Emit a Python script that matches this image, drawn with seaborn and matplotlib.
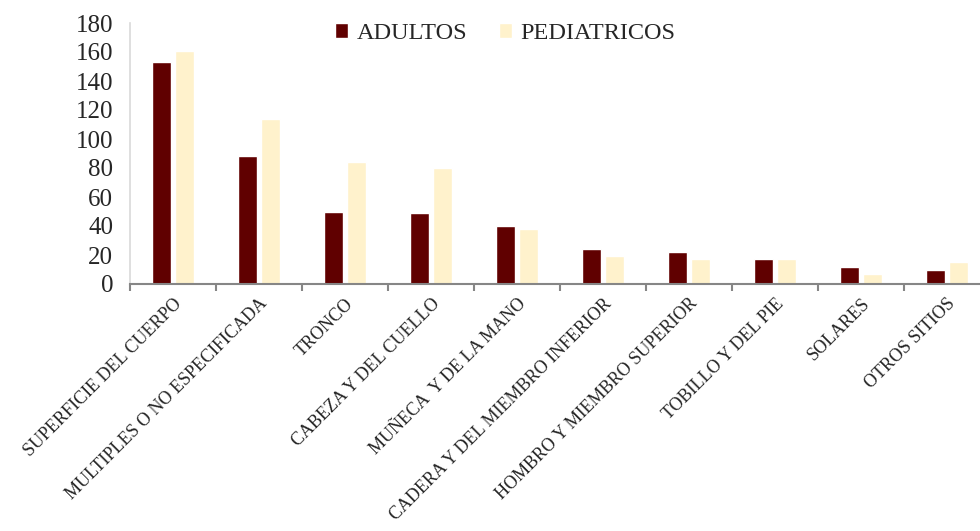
import pandas as pd
import numpy as np
import seaborn as sns
import matplotlib.pyplot as plt

# Datos
categorias = ["SUPERFICIE DEL CUERPO", "MULTIPLES O NO ESPECIFICADA", "TRONCO",
              "CABEZA Y DEL CUELLO", "MUÑECA  Y DE LA MANO", "CADERA Y DEL MIEMBRO INFERIOR",
              "HOMBRO Y MIEMBRO SUPERIOR", "TOBILLO Y DEL PIE", "SOLARES", "OTROS SITIOS"]
adultos = [153, 88, 50, 49, 40, 24, 22, 17, 12, 10]
pediatricos = [161, 114, 84, 80, 38, 19, 17, 17, 7, 15]
grupos = ["ADULTOS", "PEDIATRICOS"]
colores = ["#600000", "#FFF2CC"]

df = pd.DataFrame({
    "categoria": categorias * 2,
    "valor": adultos + pediatricos,
    "grupo": [grupos[0]] * len(categorias) + [grupos[1]] * len(categorias),
})

sns.set_style("white")
plt.rcParams['font.family'] = ['Liberation Serif', 'DejaVu Serif']

fig = plt.figure(figsize=(9.8, 5.31), dpi=100)
ax = fig.add_axes([130 / 980, (531 - 284) / 531, 860 / 980, 261 / 531])

sns.barplot(data=df, x="categoria", y="valor", hue="grupo", palette=colores,
            width=0.53, gap=0.15, saturation=1, ax=ax, legend=True)

ax.set_ylim(0, 180)
ax.set_yticks(range(0, 181, 20))
ax.set_xlim(-0.5, len(categorias) - 0.5)
ax.set_xlabel("")
ax.set_ylabel("")

# ticks del eje x entre categorias
ax.set_xticks(np.arange(len(categorias)))
ax.set_xticks(np.arange(-0.5, len(categorias), 1), minor=True)
ax.tick_params(axis="x", which="major", length=0, pad=8)
ax.tick_params(axis="x", which="minor", bottom=True, length=5, width=1.5,
               color="#868686", direction="out")
ax.tick_params(axis="y", length=0, labelsize=18, pad=12)
ax.set_xticklabels(categorias, rotation=45, ha="right", rotation_mode="anchor", fontsize=13)

for s in ["top", "right"]:
    ax.spines[s].set_visible(False)
ax.spines["left"].set_color("#D9D9D9")
ax.spines["left"].set_linewidth(1.2)
ax.spines["bottom"].set_color("#868686")
ax.spines["bottom"].set_linewidth(1.5)

leg = ax.legend(loc="upper center", bbox_to_anchor=(505 / 980, 1 - 1 / 531),
                bbox_transform=fig.transFigure, ncol=2, frameon=False,
                fontsize=17.5, handlelength=0.55, handleheight=0.55,
                handletextpad=0.35, columnspacing=1.3)

fig.savefig("out.png", dpi=100)
